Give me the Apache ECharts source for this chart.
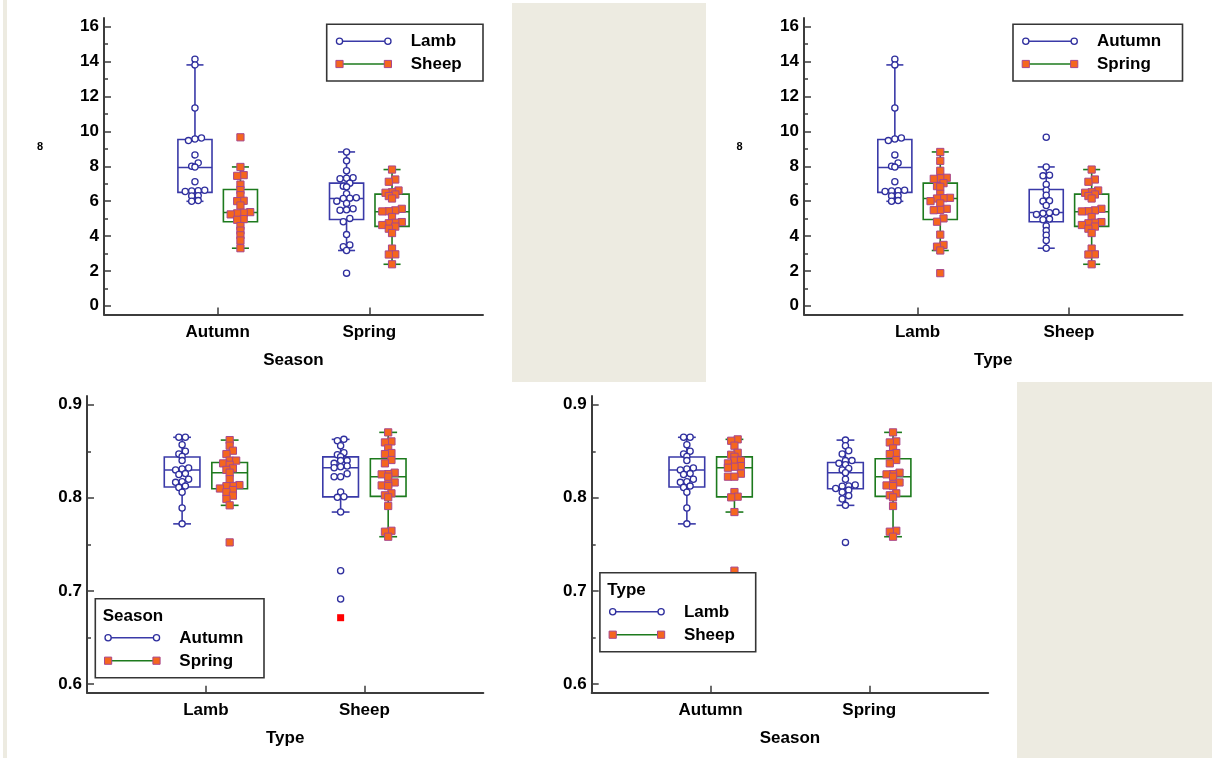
<!DOCTYPE html>
<html>
<head>
<meta charset="utf-8">
<script src="https://cdn.jsdelivr.net/npm/echarts@6/dist/echarts.min.js"></script>
<style>
  html, body { margin: 0; padding: 0; background: #ffffff; }
  #chart { width: 1212px; height: 758px; }
</style>
</head>
<body>
<div id="chart"></div>
<script>
// ---- factor levels ----
const seasons = ['Autumn', 'Spring'];
const types = ['Lamb', 'Sheep'];

// ---- upper measurement, one list per Type x Season cell ----
const upperLambAutumn = [14.14, 13.81, 11.34, 9.62, 9.56, 9.47, 8.65, 8.19, 8.00, 7.95, 7.11, 6.62, 6.60, 6.58, 6.55, 6.31, 6.29, 6.03, 5.99];
const upperSheepAutumn = [9.66, 7.96, 7.49, 7.45, 6.95, 6.63, 6.34, 6.02, 6.00, 5.75, 5.37, 5.33, 5.30, 5.24, 4.97, 4.93, 4.57, 4.31, 4.04, 3.74, 3.30];
const upperLambSpring = [8.82, 8.31, 7.74, 7.34, 7.31, 7.28, 7.03, 6.86, 6.82, 6.42, 6.19, 6.17, 6.15, 6.00, 5.87, 5.56, 5.50, 5.48, 5.01, 4.82, 4.08, 3.49, 3.39, 3.17, 1.87];
const upperSheepSpring = [7.81, 7.24, 7.11, 6.61, 6.51, 6.48, 6.38, 6.29, 6.15, 5.56, 5.47, 5.42, 5.41, 5.09, 4.80, 4.76, 4.73, 4.63, 4.54, 4.42, 4.17, 3.28, 2.95, 2.94, 2.38];

// box statistics: [lower whisker, Q1, median, Q3, upper whisker]
const upperBoxLambAutumn = [5.99, 6.50, 7.93, 9.53, 13.81];
const upperBoxSheepAutumn = [3.30, 4.82, 5.35, 6.67, 7.96];
const upperBoxLambSpring = [3.17, 4.95, 6.15, 7.03, 8.82];
const upperBoxSheepSpring = [2.38, 4.55, 5.39, 6.40, 7.81];

// ---- lower measurement ----
const lowerLambAutumn = [0.865, 0.865, 0.857, 0.850, 0.847, 0.8445, 0.840, 0.832, 0.831, 0.830, 0.826, 0.825, 0.820, 0.8173, 0.8166, 0.8126, 0.811, 0.806, 0.789, 0.772];
const lowerSheepAutumn = [0.8628, 0.8613, 0.856, 0.8484, 0.8463, 0.8441, 0.840, 0.840, 0.837, 0.8341, 0.8334, 0.8323, 0.8259, 0.8227, 0.8227, 0.8062, 0.8012, 0.8005, 0.7847, 0.7217, 0.6913, 0.6712];
const lowerLambSpring = [0.862, 0.856, 0.8506, 0.847, 0.840, 0.840, 0.837, 0.8355, 0.8316, 0.830, 0.827, 0.820, 0.8137, 0.8127, 0.8125, 0.810, 0.8083, 0.806, 0.8023, 0.7987, 0.7919, 0.7521];
const lowerSheepSpring = [0.8703, 0.8606, 0.8595, 0.8531, 0.8481, 0.847, 0.8406, 0.837, 0.827, 0.8255, 0.8252, 0.8227, 0.8165, 0.8144, 0.8133, 0.8126, 0.8048, 0.8027, 0.8005, 0.7912, 0.7646, 0.7636, 0.7582];

const lowerBoxLambAutumn = [0.772, 0.8116, 0.8298, 0.8438, 0.865];
const lowerBoxSheepAutumn = [0.7847, 0.801, 0.8323, 0.844, 0.8628];
const lowerBoxLambSpring = [0.7919, 0.8098, 0.827, 0.838, 0.862];
const lowerBoxSheepSpring = [0.7582, 0.8015, 0.8227, 0.842, 0.8703];

// ---- axis ticks ----
const upperTicks = [0, 2, 4, 6, 8, 10, 12, 14, 16];
const upperMinorTicks = [1, 3, 5, 7, 9, 11, 13, 15];
const lowerTicks = [0.6, 0.7, 0.8, 0.9];
const lowerMinorTicks = [0.65, 0.75, 0.85];

// ---- styling ----
const FONT = '"Liberation Sans", Arial, sans-serif';
const AXIS = '#3c3c3c';
const BLUE = '#2f2f9e';
const BLUE_LINE = '#3a3aa8';
const GREEN = '#1d7a1d';
const ORANGE = '#f5661e';
const ORANGE_EDGE = '#a8478c';
const BEIGE = '#edebe1';

const cell = (values, box) => ({ values, box });
const UA_L = cell(upperLambAutumn, upperBoxLambAutumn);
const UA_S = cell(upperSheepAutumn, upperBoxSheepAutumn);
const US_L = cell(upperLambSpring, upperBoxLambSpring);
const US_S = cell(upperSheepSpring, upperBoxSheepSpring);
const LA_L = cell(lowerLambAutumn, lowerBoxLambAutumn);
const LA_S = cell(lowerSheepAutumn, lowerBoxSheepAutumn);
const LS_L = cell(lowerLambSpring, lowerBoxLambSpring);
const LS_S = cell(lowerSheepSpring, lowerBoxSheepSpring);

// each panel: categories on x, two series levels; cells[seriesLevel][xCategory]
const panels = [
  { grid: { left: 104, top: 18, width: 379, height: 296.5 },
    xLabels: seasons, xName: 'Season', levels: types, legendTitle: null,
    cells: [[UA_L, US_L], [UA_S, US_S]],
    yMin: -0.5, yMax: 16.5, ticks: upperTicks, minor: upperMinorTicks, digits: 0,
    legend: { x: 326.7, y: 24.3, w: 156.3, h: 56.7 } },
  { grid: { left: 804, top: 18, width: 378.5, height: 296.5 },
    xLabels: types, xName: 'Type', levels: seasons, legendTitle: null,
    cells: [[UA_L, UA_S], [US_L, US_S]],
    yMin: -0.5, yMax: 16.5, ticks: upperTicks, minor: upperMinorTicks, digits: 0,
    legend: { x: 1013, y: 24.3, w: 169.5, h: 56.7 } },
  { grid: { left: 87, top: 396, width: 396.3, height: 296.7 },
    xLabels: types, xName: 'Type', levels: seasons, legendTitle: 'Season',
    cells: [[LA_L, LA_S], [LS_L, LS_S]],
    yMin: 0.590625, yMax: 0.909375, ticks: lowerTicks, minor: lowerMinorTicks, digits: 1,
    legend: { x: 95.3, y: 598.7, w: 168.7, h: 79 } },
  { grid: { left: 591.7, top: 396, width: 396.5, height: 296.7 },
    xLabels: seasons, xName: 'Season', levels: types, legendTitle: 'Type',
    cells: [[LA_L, LS_L], [LA_S, LS_S]],
    yMin: 0.590625, yMax: 0.909375, ticks: lowerTicks, minor: lowerMinorTicks, digits: 1,
    legend: { x: 599.9, y: 572.7, w: 155.8, h: 79 } }
];

const LEVEL_OFFSET = [-0.15, 0.15];
const BOX_WIDTH = 0.225;
const ROW_TOL = 3.5;     // px, points closer than this share a row
const ROW_STEP = 6.5;    // px between points in a row

// horizontal dodge of points that share the same height
function swarm(pys) {
  const order = pys.map((p, i) => i).sort((a, b) => pys[a] - pys[b]);
  const out = new Array(pys.length).fill(0);
  let row = [];
  const flush = () => {
    row.sort((a, b) => pys[b] - pys[a]);
    row.forEach((k, j) => { out[k] = (j - (row.length - 1) / 2) * ROW_STEP; });
    row = [];
  };
  order.forEach(k => {
    if (row.length && pys[k] - pys[row[0]] > ROW_TOL) flush();
    row.push(k);
  });
  flush();
  return out;
}

function makeRenderer(panel, level) {
  const edge = level === 0 ? BLUE_LINE : GREEN;
  return function (params, api) {
    const c = panel.cells[level][params.dataIndex];
    const st = c.box;
    const xv = api.value(0);
    const cx = api.coord([xv, st[2]])[0];
    const half = api.size([BOX_WIDTH, 0])[0] / 2;
    const y = v => api.coord([xv, v])[1];
    const lw = 1.6;
    const ln = (x1, y1, x2, y2) => ({ type: 'line', shape: { x1, y1, x2, y2 }, style: { stroke: edge, lineWidth: lw, fill: null } });
    const yLo = y(st[0]), yQ1 = y(st[1]), yMed = y(st[2]), yQ3 = y(st[3]), yHi = y(st[4]);
    const children = [
      ln(cx, yQ3, cx, yHi), ln(cx, yQ1, cx, yLo),
      ln(cx - half / 2, yHi, cx + half / 2, yHi), ln(cx - half / 2, yLo, cx + half / 2, yLo),
      { type: 'rect', shape: { x: cx - half, y: yQ3, width: 2 * half, height: yQ1 - yQ3 },
        style: { stroke: edge, lineWidth: lw, fill: null } },
      ln(cx - half, yMed, cx + half, yMed)
    ];
    const iqr = st[3] - st[1];
    const pys = c.values.map(y);
    const dx = swarm(pys);
    c.values.forEach((v, i) => {
      const px = cx + dx[i], py = pys[i];
      const far = v < st[1] - 3 * iqr || v > st[3] + 3 * iqr;
      if (far) {
        children.push({ type: 'rect', shape: { x: px - 3.5, y: py - 3.5, width: 7, height: 7 },
          style: { fill: '#ff0000', stroke: null } });
      } else if (level === 0) {
        children.push({ type: 'circle', shape: { cx: px, cy: py, r: 3.1 },
          style: { fill: '#ffffff', stroke: BLUE, lineWidth: 1.3 } });
      } else {
        children.push({ type: 'rect', shape: { x: px - 3.6, y: py - 3.6, width: 7.2, height: 7.2 },
          style: { fill: ORANGE, stroke: ORANGE_EDGE, lineWidth: 1 } });
      }
    });
    return { type: 'group', children };
  };
}

const grids = [], xAxes = [], yAxes = [], series = [], graphics = [];
const labelStyle = { color: '#000', fontSize: 17, fontWeight: 'bold', fontFamily: FONT };
const LZ = 100;

panels.forEach((p, pi) => {
  grids.push(Object.assign({ containLabel: false }, p.grid));
  xAxes.push({
    type: 'value', gridIndex: pi, min: 0.25, max: 2.75, position: 'bottom',
    name: p.xName, nameLocation: 'middle', nameGap: 37,
    nameTextStyle: labelStyle,
    axisLine: { show: true, onZero: false, lineStyle: { color: AXIS, width: 2 } },
    axisTick: { show: true, inside: true, length: 7, customValues: [1, 2], lineStyle: { color: AXIS, width: 1.5 } },
    axisLabel: Object.assign({ customValues: [1, 2], margin: 9, formatter: v => p.xLabels[Math.round(v) - 1] }, labelStyle),
    splitLine: { show: false }
  });
  // major ticks and labels
  yAxes.push({
    type: 'value', gridIndex: pi, min: p.yMin, max: p.yMax, position: 'left',
    axisLine: { show: true, onZero: false, lineStyle: { color: AXIS, width: 2 } },
    axisTick: { show: true, inside: true, length: 7, customValues: p.ticks, lineStyle: { color: AXIS, width: 1.5 } },
    axisLabel: Object.assign({ customValues: p.ticks, margin: 5, formatter: v => v.toFixed(p.digits) }, labelStyle),
    splitLine: { show: false }
  });
  // minor ticks on the same left edge
  yAxes.push({
    type: 'value', gridIndex: pi, min: p.yMin, max: p.yMax, position: 'left', offset: 0,
    axisLine: { show: false, onZero: false },
    axisTick: { show: true, inside: true, length: 4, customValues: p.minor, lineStyle: { color: AXIS, width: 1.5 } },
    axisLabel: { show: false, customValues: p.minor },
    splitLine: { show: false }
  });
  [0, 1].forEach(level => {
    series.push({
      type: 'custom', name: p.levels[level],
      xAxisIndex: pi, yAxisIndex: pi * 2,
      data: [0, 1].map(xi => [xi + 1 + LEVEL_OFFSET[level], p.cells[level][xi].box[2]]),
      encode: { x: 0, y: 1 },
      renderItem: makeRenderer(p, level),
      clip: false, silent: true, z: 3
    });
  });

  // legend box, drawn above the plotted marks
  const L = p.legend;
  const kids = [{ type: 'rect', z: LZ, shape: { x: 0, y: 0, width: L.w, height: L.h },
    style: { fill: '#ffffff', stroke: '#353535', lineWidth: 1.6 } }];
  let rowY = [17, 39.7];
  if (p.legendTitle) {
    kids.push({ type: 'text', z: LZ + 1, style: { text: p.legendTitle, x: 7.4, y: 17.3, fill: '#000',
      font: 'bold 17px ' + FONT, textVerticalAlign: 'middle', verticalAlign: 'middle' } });
    rowY = [39, 62];
  }
  p.levels.forEach((name, level) => {
    const ry = rowY[level];
    const x1 = 12.8, x2 = 61.2;
    kids.push({ type: 'line', z: LZ + 1, shape: { x1, y1: ry, x2, y2: ry },
      style: { stroke: level === 0 ? BLUE_LINE : GREEN, lineWidth: 1.6 } });
    [x1, x2].forEach(mx => {
      if (level === 0) {
        kids.push({ type: 'circle', z: LZ + 2, shape: { cx: mx, cy: ry, r: 3.1 },
          style: { fill: '#ffffff', stroke: BLUE, lineWidth: 1.3 } });
      } else {
        kids.push({ type: 'rect', z: LZ + 2, shape: { x: mx - 3.6, y: ry - 3.6, width: 7.2, height: 7.2 },
          style: { fill: ORANGE, stroke: ORANGE_EDGE, lineWidth: 1 } });
      }
    });
    kids.push({ type: 'text', z: LZ + 1, style: { text: name, x: 84, y: ry + 0.5, fill: '#000',
      font: 'bold 17px ' + FONT, textVerticalAlign: 'middle', verticalAlign: 'middle' } });
  });
  graphics.push({ type: 'group', x: L.x, y: L.y, z: LZ, children: kids });
});

// page background panels
graphics.unshift(
  { type: 'rect', z: -10, shape: { x: 3, y: 0, width: 4, height: 758 }, style: { fill: BEIGE } },
  { type: 'rect', z: -10, shape: { x: 512, y: 3, width: 194, height: 379 }, style: { fill: BEIGE } },
  { type: 'rect', z: -10, shape: { x: 1017, y: 382, width: 195, height: 376 }, style: { fill: BEIGE } },
  { type: 'text', z: LZ, style: { text: '8', x: 40, y: 147, fill: '#000', font: 'bold 11px ' + FONT,
    textAlign: 'center', align: 'center', textVerticalAlign: 'middle', verticalAlign: 'middle' } },
  { type: 'text', z: LZ, style: { text: '8', x: 739.5, y: 147, fill: '#000', font: 'bold 11px ' + FONT,
    textAlign: 'center', align: 'center', textVerticalAlign: 'middle', verticalAlign: 'middle' } }
);

const chart = echarts.init(document.getElementById('chart'), null, { renderer: 'canvas' });
chart.setOption({
  animation: false,
  backgroundColor: '#ffffff',
  grid: grids,
  xAxis: xAxes,
  yAxis: yAxes,
  series: series,
  graphic: graphics
});
</script>
</body>
</html>
